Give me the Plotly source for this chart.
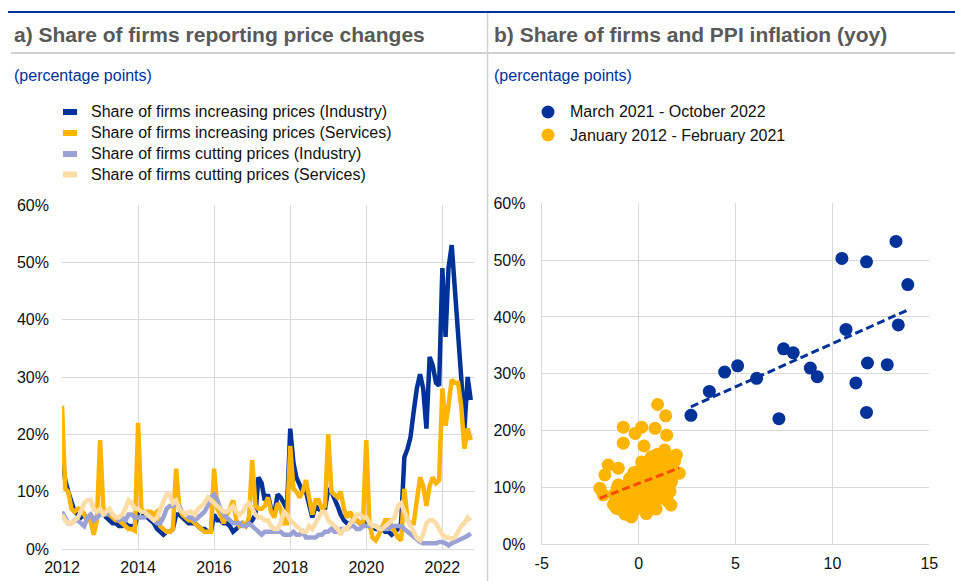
import numpy as np
import pandas as pd
import plotly.graph_objects as go

W, H = 955, 581

# ---------------- data: panel a (monthly, Jan 2012 - Oct 2022, %) ----------------
months = pd.date_range("2012-01-01", periods=130, freq="MS")

ind_inc = [
    16.5, 12, 10, 8, 6.5, 6, 5.5, 6, 5, 6, 5, 5.5,          # 2012
    7, 6, 5.5, 5, 4.5, 4.5, 4, 4, 4.5, 4, 4, 4,             # 2013
    6.5, 6.5, 6, 5.5, 5, 4.5, 3.5, 3, 2.5, 3, 3, 3.5,       # 2014
    6, 6, 5.5, 5, 4.5, 4.5, 4.5, 4, 3.5, 3.5, 3, 3,         # 2015
    6, 5, 5, 4.5, 4.5, 4, 3, 3.5, 4, 4.5, 4, 4.5,           # 2016
    5, 6, 12.5, 11.5, 8.5, 9.5, 7, 6, 9.5, 9, 8, 7,         # 2017
    21, 15, 12.5, 11, 10, 10, 8, 5.5, 7.5, 7, 6.5, 7,       # 2018
    10.5, 10, 9, 7.5, 6, 5, 4.5, 4.5, 5, 5, 4.5, 4.5,       # 2019
    5, 4, 4, 3.5, 3.5, 3.5, 3, 3, 2.5, 3, 3.5, 4.5,         # 2020
    16, 17.5, 19.5, 24, 28, 30.5, 28, 21, 33.5, 32, 29, 28.5,  # 2021
    49, 37, 49, 53, 46, 38, 30, 21, 30, 26,                 # 2022
]
srv_inc = [
    25, 10.5, 10, 7, 6.5, 7, 7, 6, 5, 5, 2.5, 5,            # 2012
    19, 7, 6.5, 6, 5.5, 5, 5, 4.5, 4, 3.5, 3.5, 3.2,        # 2013
    22, 7, 6.5, 6.5, 6.5, 6, 6.5, 4, 3.5, 3, 3, 3.5,        # 2014
    14, 7, 6, 5.5, 5, 5, 4.5, 4, 3.5, 3, 3, 3,              # 2015
    14, 7, 6, 4.5, 6, 7, 8.5, 5, 4, 4.5, 4, 5.5,            # 2016
    15.5, 7.5, 7, 7, 7.5, 9, 6.5, 5.5, 8, 7, 4.5, 4.5,      # 2017
    18, 10.5, 10, 9, 10, 12, 9, 6, 8.5, 8.5, 7, 7.5,        # 2018
    20, 10, 9.5, 9, 10, 7, 5.5, 6.5, 5, 5, 4.5, 4.5,        # 2019
    19, 4.5, 2, 1.5, 2.5, 4, 5, 5, 4, 3, 2, 1.5,            # 2020
    10.5, 5, 4.5, 4.5, 8, 12.5, 11, 7.5, 11, 12.5, 11.5, 12,  # 2021
    28, 21.5, 25, 29.5, 29, 29, 25, 17.5, 21, 19,           # 2022
]
ind_cut = [
    6.5, 5.5, 4.5, 4.5, 5, 5, 4.5, 4, 5.5, 6, 5, 5.5,
    6, 6, 6, 6.5, 6, 5.5, 5, 5.5, 5, 6, 6, 5.5,
    5.5, 5.5, 5.5, 6, 5.5, 5, 4.5, 4.5, 5.5, 7, 7.5, 7.5,
    8, 7.5, 6.5, 6, 5.5, 5.5, 5, 5.5, 6, 6.5, 7.5, 9,
    9.5, 8.5, 7, 6, 5.5, 5, 4.5, 4.5, 4.5, 4, 4, 4.5,
    4, 3.5, 3, 2.5, 3, 3, 3, 3, 3, 3, 2.5, 2.5,
    2.5, 3, 2.5, 2.5, 3, 2, 2, 2, 2, 2.5, 2.5, 3,
    3, 3.5, 3, 3, 3.5, 3.5, 3.5, 4, 4, 3.5, 3.5, 4,
    4, 4, 4, 4, 3.5, 3.5, 3.5, 3.5, 4, 4, 4, 4,
    3.5, 3, 2.5, 2, 1.5, 1.2, 1, 1, 1, 1, 1, 1.2,
    1.2, 1, 0.6, 1, 1.3, 1.5, 1.8, 2, 2.3, 2.7,
]
srv_cut = [
    6, 5, 4.5, 4.5, 5, 5.5, 6.5, 8, 8.5, 8.5, 7, 6.5,
    7, 6, 6.5, 7, 6, 5.5, 5.5, 6, 7, 8.5, 8, 7,
    7, 6.5, 6.5, 6, 5.5, 5, 5.5, 7, 8.5, 9.5, 9.5, 8,
    8.5, 7, 6.5, 6, 6.5, 6.5, 6, 7, 7.5, 8, 9, 8.5,
    8, 7.5, 7, 6.5, 6.5, 7, 7.5, 6.5, 6, 6.5, 7.5, 8,
    7, 6, 5.5, 5.5, 5, 5, 4, 3.5, 3.5, 4.5, 6.5, 6,
    5, 4.5, 4, 3.5, 3, 3, 4, 3.5, 4.5, 5.5, 6.5, 6.5,
    5, 4.5, 4, 3.5, 2.5, 3.5, 3.5, 4.5, 5, 6, 6, 5.5,
    5.5, 4.5, 4, 4, 3.5, 3.5, 4, 4.5, 5, 5.5, 7.5, 8,
    6.5, 5, 4, 3, 2, 1.5, 2.5, 4.5, 5, 5, 4.5, 3.5,
    2.5, 2, 2, 1.8, 2, 3, 4, 4.5, 5.5, 5,
]

series_names = [
    "Share of firms increasing prices (Industry)",
    "Share of firms increasing prices (Services)",
    "Share of firms cutting prices (Industry)",
    "Share of firms cutting prices (Services)",
]
series_colors = ["#003299", "#FFB400", "#9AA1D4", "#FDDCA5"]

# ---------------- data: panel b (PPI inflation yoy, share of firms %) ----------------
recent_ppi = [2.70, 3.65, 4.44, 5.11, 6.09, 7.24, 7.48, 7.98, 8.86, 9.22,
              10.49, 10.70, 11.21, 11.76, 11.76, 11.81, 12.83, 13.28, 13.40, 13.89]
recent_share = [22.7, 26.9, 30.3, 31.4, 29.2, 22.1, 34.4, 33.7, 31.0, 29.5,
                50.3, 37.8, 28.4, 49.7, 23.2, 31.9, 31.6, 53.3, 38.6, 45.7]

past_ppi = [
    0.98, 1.40, -0.79, 0.16, -0.18, 0.85, 1.45, -0.79, 0.28, 0.66,
    1.34, 1.95, -1.57, -1.05, -1.74, -2.00, -1.83, -1.05, 0.16, 0.85,
    2.10, 1.67, -1.14, -0.37, 1.67, -0.46, -0.03, 0.50, 1.19, 1.62,
    -0.71, 0.16, 0.68, 1.19, -0.18, -0.88,
    -1.30, -1.25, -1.20, -1.10, -1.00, -0.95, -0.90, -0.85, -0.80, -0.70,
    -0.65, -0.60, -0.55, -0.50, -0.45, -0.40, -0.35, -0.30, -0.20, -0.15,
    -0.10, -0.05, 0.00, 0.05, 0.10, 0.15, 0.20, 0.25, 0.30, 0.35,
    0.40, 0.45, 0.50, 0.55, 0.60, 0.65, 0.70, 0.75, 0.80, 0.85,
    0.90, 0.95, 1.00, 1.05, 1.10, 1.15, 1.20, 1.25, 1.30, 1.35,
    1.40, 1.45, 1.50, 1.55, 1.60, 1.65, 1.70, 1.75, 1.80, 1.85,
    0.60, 0.95, 0.20, 1.30, 0.40, 0.90, -0.25, 0.70, 1.20, 0.00,
    0.30, -0.60, 1.50, 1.00,
]
past_share = [
    24.6, 22.6, 20.6, 20.6, 19.5, 20.4, 19.2, 17.8, 17.3, 15.4,
    16.6, 15.7, 13.95, 13.4, 12.2, 9.85, 8.7, 10.45, 14.5, 13.95,
    12.5, 13.9, 6.3, 4.8, 6.9, 11.6, 12.8, 9.85, 11.0, 9.3,
    7.5, 7.5, 8.7, 8.1, 9.3, 8.7,
    7.0, 8.8, 7.8, 10.0, 6.6, 8.5, 6.1, 9.7, 7.3, 5.3,
    9.1, 6.7, 10.7, 7.9, 5.5, 9.6, 7.2, 8.4, 6.0, 10.0,
    7.8, 11.4, 6.6, 9.0, 10.6, 7.6, 12.0, 8.6, 6.4, 10.2,
    11.9, 7.9, 9.7, 12.9, 8.7, 11.0, 13.8, 9.6, 7.6, 12.0,
    10.4, 13.6, 8.8, 12.6, 11.0, 14.7, 9.7, 13.1, 11.5, 8.5,
    14.2, 11.0, 13.0, 9.6, 12.0, 15.4, 11.0, 13.4, 12.2, 14.6,
    15.0, 15.8, 14.0, 15.0, 5.4, 6.2, 12.6, 12.0, 11.8, 9.6,
    12.8, 5.4, 7.6, 10.2,
]
scatter_names = ["March 2021 - October 2022", "January 2012 - February 2021"]
scatter_colors = ["#003299", "#FFB400"]
trend_colors = ["#003299", "#FF4B00"]

pct_ticks = [0, 10, 20, 30, 40, 50, 60]
pct_labels = ["0%", "10%", "20%", "30%", "40%", "50%", "60%"]
left_xticks = ["2012", "2014", "2016", "2018", "2020", "2022"]
right_xticks = [-5, 0, 5, 10, 15]
right_xlabels = ["-5", "0", "5", "10", "15"]

# ---------------- helpers ----------------
def px(x):
    return x / W

def py(y):
    return 1 - y / H

FONT = "Arial, Liberation Sans, sans-serif"
GRID = "#D9D9D9"

fig = go.Figure()

# panel a lines
for vals, name, col in zip([ind_inc, srv_inc, ind_cut, srv_cut], series_names, series_colors):
    fig.add_trace(go.Scatter(x=months, y=vals, mode="lines", name=name,
                             line=dict(color=col, width=4.5), xaxis="x", yaxis="y",
                             showlegend=False))

# panel b scatter
fig.add_trace(go.Scatter(x=past_ppi, y=past_share, mode="markers", name=scatter_names[1],
                         marker=dict(color=scatter_colors[1], size=13, line=dict(width=0)),
                         xaxis="x2", yaxis="y2", showlegend=False))
fig.add_trace(go.Scatter(x=recent_ppi, y=recent_share, mode="markers", name=scatter_names[0],
                         marker=dict(color=scatter_colors[0], size=13, line=dict(width=0)),
                         xaxis="x2", yaxis="y2", showlegend=False))

# linear trend lines (OLS fits of the data)
for xs, ys, col in [(past_ppi, past_share, trend_colors[1]), (recent_ppi, recent_share, trend_colors[0])]:
    xs = np.asarray(xs); ys = np.asarray(ys)
    b, a = np.polyfit(xs, ys, 1)
    tx = np.array([xs.min(), xs.max()])
    fig.add_trace(go.Scatter(x=tx, y=a + b * tx, mode="lines",
                             line=dict(color=col, width=3, dash="8px,4px"),
                             xaxis="x2", yaxis="y2", showlegend=False, hoverinfo="skip"))

tickfont = dict(family=FONT, size=16, color="#111111")

fig.update_layout(
    width=W, height=H, autosize=False,
    margin=dict(l=0, r=0, t=0, b=0, autoexpand=False),
    paper_bgcolor="white", plot_bgcolor="white",
    font=dict(family=FONT),
    xaxis=dict(domain=[px(62), px(474)], type="date", automargin=False,
               range=["2012-01-01", "2022-11-01"],
               tickmode="array", tickvals=[f"{t}-01-01" for t in left_xticks], ticktext=left_xticks,
               showgrid=True, gridcolor=GRID, gridwidth=1,
               showline=True, linecolor=GRID, linewidth=1,
               zeroline=False, ticks="", tickfont=tickfont, ticklabelstandoff=4),
    yaxis=dict(domain=[py(549), py(205)], range=[0, 60], automargin=False,
               tickmode="array", tickvals=pct_ticks, ticktext=pct_labels,
               showgrid=True, gridcolor=GRID, gridwidth=1,
               showline=False, zeroline=False, ticks="",
               tickfont=tickfont, ticklabelstandoff=12),
    xaxis2=dict(domain=[px(541.7), px(929.3)], range=[-5, 15], anchor="y2", automargin=False,
                tickmode="array", tickvals=right_xticks, ticktext=right_xlabels,
                showgrid=True, gridcolor=GRID, gridwidth=1,
                showline=True, linecolor=GRID, linewidth=1, mirror=False,
                zeroline=False, ticks="", tickfont=tickfont, ticklabelstandoff=4),
    yaxis2=dict(domain=[py(544.3), py(203.3)], range=[0, 60], anchor="x2", automargin=False,
                tickmode="array", tickvals=pct_ticks, ticktext=pct_labels,
                showgrid=True, gridcolor=GRID, gridwidth=1,
                showline=True, linecolor=GRID, linewidth=1,
                zeroline=False, ticks="", tickfont=tickfont, ticklabelstandoff=12),
)

shapes = []
annotations = []
# frame lines
shapes.append(dict(type="line", xref="paper", yref="paper", x0=px(8), x1=1, y0=py(12), y1=py(12),
                   line=dict(color="#003299", width=2)))
shapes.append(dict(type="line", xref="paper", yref="paper", x0=px(11), x1=1, y0=py(53), y1=py(53),
                   line=dict(color="#D0D0D0", width=2)))
shapes.append(dict(type="line", xref="paper", yref="paper", x0=px(487.5), x1=px(487.5), y0=py(13), y1=0,
                   line=dict(color="#D0D0D0", width=1.5)))

# titles
for x0, txt in [(12, "a) Share of firms reporting price changes"), (492, "b) Share of firms and PPI inflation (yoy)")]:
    annotations.append(dict(x=px(x0), y=py(34), xref="paper", yref="paper", xanchor="left", yanchor="middle",
                            text=f"<b>{txt}</b>", showarrow=False,
                            font=dict(family=FONT, size=21, color="#595959")))
    annotations.append(dict(x=px(x0), y=py(75), xref="paper", yref="paper", xanchor="left", yanchor="middle",
                            text="(percentage points)", showarrow=False,
                            font=dict(family=FONT, size=16, color="#003299")))

# legend panel a
leg_y = [112, 133, 154, 174.5]
for yy, name, col in zip(leg_y, series_names, series_colors):
    shapes.append(dict(type="rect", xref="paper", yref="paper", x0=px(63), x1=px(77),
                       y0=py(yy + 3), y1=py(yy - 3), fillcolor=col, line=dict(width=0)))
    annotations.append(dict(x=px(89), y=py(yy), xref="paper", yref="paper", xanchor="left", yanchor="middle",
                            text=name, showarrow=False, font=dict(family=FONT, size=16, color="#111111")))

# legend panel b
for yy, name, col in zip([112, 135], scatter_names, scatter_colors):
    shapes.append(dict(type="circle", xref="paper", yref="paper", xsizemode="pixel", ysizemode="pixel",
                       xanchor=px(548), yanchor=py(yy), x0=-6.5, x1=6.5, y0=-6.5, y1=6.5,
                       fillcolor=col, line=dict(width=0)))
    annotations.append(dict(x=px(568), y=py(yy), xref="paper", yref="paper", xanchor="left", yanchor="middle",
                            text=name, showarrow=False, font=dict(family=FONT, size=16, color="#111111")))

fig.update_layout(shapes=shapes, annotations=annotations)
fig.write_html("out.html", config={"displayModeBar": False},
               post_script="document.body.style.margin='0px';document.body.style.overflow='hidden';")
